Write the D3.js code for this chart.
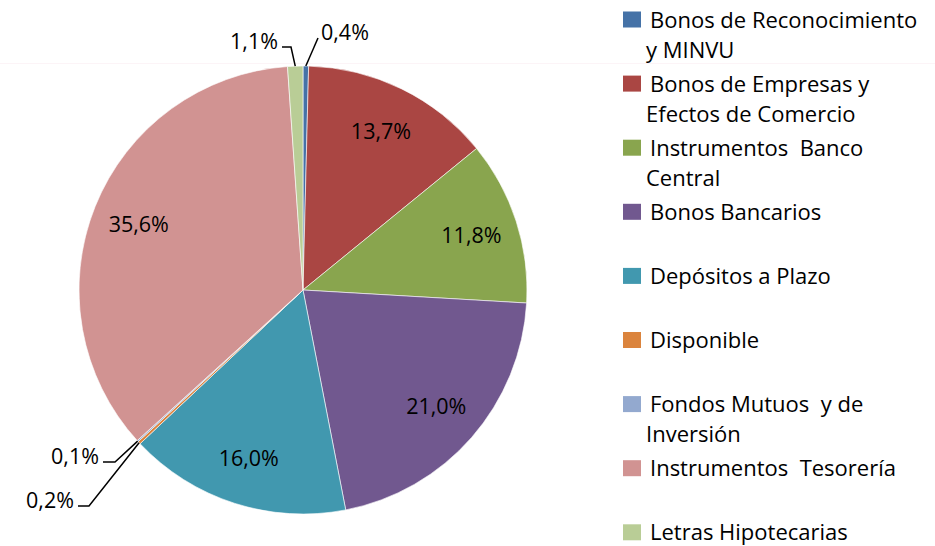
<!DOCTYPE html>
<html>
<head>
<meta charset="utf-8">
<script src="https://cdn.jsdelivr.net/npm/d3@7"></script>
<style>
  body { margin: 0; background: #fff; }
  text { font-family: "Open Sans", sans-serif; fill: #000; }
</style>
</head>
<body>
<div id="chart"></div>
<script>
// categories in slice order, clockwise from 12 o'clock
const categories = [
  "Bonos de Reconocimiento y MINVU",
  "Bonos de Empresas y Efectos de Comercio",
  "Instrumentos Banco Central",
  "Bonos Bancarios",
  "Depósitos a Plazo",
  "Disponible",
  "Fondos Mutuos y de Inversión",
  "Instrumentos Tesorería",
  "Letras Hipotecarias"
];
const values = [0.4, 13.7, 11.8, 21.0, 16.0, 0.2, 0.1, 35.6, 1.1];
const colors = ["#4572a7", "#aa4643", "#89a54e", "#71588f", "#4198af",
                "#db843d", "#93a9cf", "#d19392", "#b9cd96"];
// how the legend wraps each name
const legendLines = [
  ["Bonos de Reconocimiento", "y MINVU"],
  ["Bonos de Empresas y", "Efectos de Comercio"],
  ["Instrumentos  Banco", "Central"],
  ["Bonos Bancarios"],
  ["Depósitos a Plazo"],
  ["Disponible"],
  ["Fondos Mutuos  y de", "Inversión"],
  ["Instrumentos  Tesorería"],
  ["Letras Hipotecarias"]
];
// small slices get an outside label with a leader line: [elbow x, elbow y, text x, anchor]
const outside = {
  0: [318, 38, 321, "start"],
  8: [291, 47, 278, "end"],
  6: [115, 462, 99, "end"],
  5: [89, 506, 74, "end"]
};

const width = 935, height = 546;
const cx = 303, cy = 290, r = 224;

const svg = d3.select("#chart").append("svg")
  .attr("width", width)
  .attr("height", height);

// faint plot-area edge
svg.append("line")
  .attr("x1", 0).attr("x2", width)
  .attr("y1", 63.5).attr("y2", 63.5)
  .attr("stroke", "#fcf4f7");

const fmt = v => d3.format(".1f")(v).replace(".", ",") + "%";

const pie = d3.pie().sort(null).value(d => d);
const arcs = pie(values);
const arc = d3.arc().innerRadius(0).outerRadius(r);
const labelArc = d3.arc().innerRadius(177).outerRadius(177);
const edgeArc = d3.arc().innerRadius(r).outerRadius(r);

const g = svg.append("g").attr("transform", "translate(" + cx + "," + cy + ")");

g.selectAll("path")
  .data(arcs)
  .enter().append("path")
  .attr("d", arc)
  .attr("fill", (d, i) => colors[i])
  .attr("stroke", "#fff")
  .attr("stroke-width", 0.6);

// inside labels
g.selectAll(".lbl")
  .data(arcs.filter((d, i) => !(i in outside)))
  .enter().append("text")
  .attr("class", "lbl")
  .attr("transform", d => "translate(" + labelArc.centroid(d) + ")")
  .attr("text-anchor", "middle")
  .attr("dy", "0.36em")
  .style("font-size", "21.5px")
  .text(d => fmt(d.data));

// outside labels with leader lines
Object.keys(outside).forEach(k => {
  const i = +k;
  const [ex, ey, tx, anchor] = outside[k];
  const p = edgeArc.centroid(arcs[i]);
  const sx = p[0] + cx, sy = p[1] + cy;
  const hx = anchor === "end" ? tx + 4 : ex;
  svg.append("polyline")
    .attr("points", [[sx, sy], [ex, ey], [hx, ey]].map(q => q.join(",")).join(" "))
    .attr("fill", "none")
    .attr("stroke", "#000")
    .attr("stroke-width", 1.5);
  svg.append("text")
    .attr("x", tx)
    .attr("y", ey - 6)
    .attr("text-anchor", anchor)
    .attr("dy", "0.36em")
    .style("font-size", "21.5px")
    .text(fmt(values[i]));
});

// legend
const leg = svg.append("g");
const rowStep = 64.1, legTop = 19.5;
categories.forEach((c, i) => {
  const yc = legTop + i * rowStep;
  leg.append("rect")
    .attr("x", 623).attr("y", yc - 8)
    .attr("width", 18).attr("height", 16)
    .attr("fill", colors[i]);
  const t = leg.append("text")
    .attr("x", 650)
    .attr("y", yc + 8)
    .style("font-size", "22px")
    .attr("xml:space", "preserve");
  legendLines[i].forEach((line, j) => {
    t.append("tspan")
      .attr("x", j === 0 ? 650 : 646)
      .attr("dy", j === 0 ? 0 : 30)
      .text(line);
  });
});
</script>
</body>
</html>
